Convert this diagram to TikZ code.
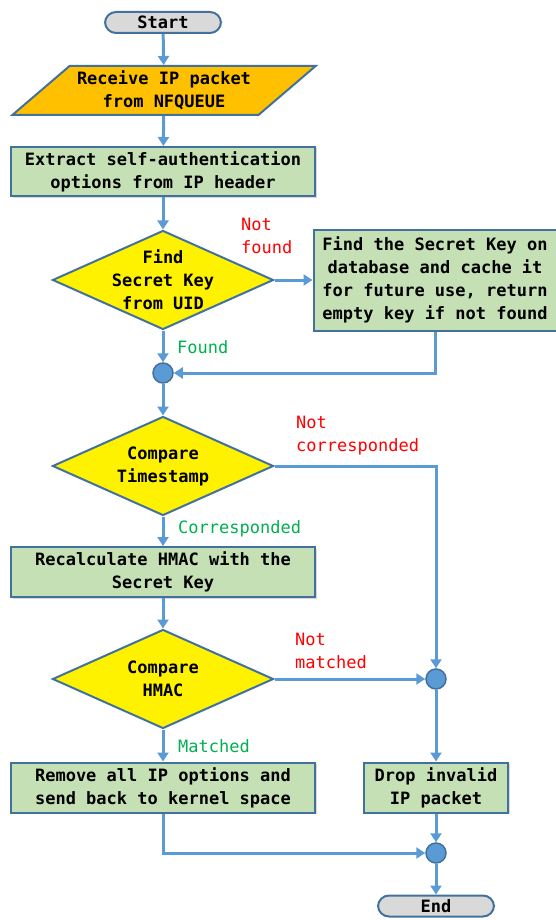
\documentclass[tikz,border=0pt]{standalone}
\usepackage{fontspec}
\setmainfont{DejaVu Sans Mono}
\usetikzlibrary{arrows.meta,shapes.geometric,shadows}

\definecolor{flowline}{HTML}{5B9BD5}
\definecolor{flowedge}{HTML}{41719C}
\definecolor{boxgreen}{HTML}{C5E0B4}
\definecolor{recvorange}{HTML}{FFC000}
\definecolor{yesgreen}{HTML}{00B050}
\definecolor{termgrey}{HTML}{D9D9D9}

\tikzset{
	base/.style={draw=flowedge, line width=2pt, align=center, inner sep=0pt,
		font=\fontsize{17}{23}\selectfont\bfseries},
	terminal/.style={base, rectangle, rounded corners=11pt, fill=termgrey,
		minimum width=116pt, minimum height=21pt},
	inputbox/.style={base, trapezium, trapezium left angle=36.6,
		trapezium right angle=143.4, trapezium stretches=true, fill=recvorange,
		minimum width=304pt, minimum height=49pt},
	process/.style={base, rectangle, fill=boxgreen,
		drop shadow={opacity=0.3, shadow xshift=1.5pt, shadow yshift=-1.5pt}},
	decision/.style={base, diamond, fill=yellow, minimum width=221pt,
		minimum height=99pt},
	junction/.style={circle, draw=flowedge, line width=1.5pt, fill=flowline,
		minimum size=20pt, inner sep=0pt},
	flow/.style={draw=flowline, line width=3pt,
		-{Triangle[width=11pt,length=9pt]}},
	nolabel/.style={text=red, align=left, anchor=west, inner sep=0pt,
		font=\fontsize{17}{23}\selectfont},
	yeslabel/.style={nolabel, text=yesgreen}
}

\begin{document}
\begin{tikzpicture}[x=1pt, y=-1pt]
		%%%%% START %%%%%
		\useasboundingbox (0, 0) rectangle (556, 920);
		
		\node[terminal] (start) at (163, 22.5) {Start};
		\node[inputbox] (recv) at (164, 90.5) {Receive IP packet\\from NFQUEUE};
		\node[process, minimum width=304pt, minimum height=49pt] (extract) at (163, 171.5)
			{Extract self-authentication\\options from IP header};
		
		\node[decision, label={[base, draw=none, fill=none]center:Find\\Secret Key\\from UID}] (find) at (163, 280) {};
		\node[process, minimum width=243pt, minimum height=101pt] (lookup) at (435, 280)
			{Find the Secret Key on\\database and cache it\\for future use, return\\empty key if not found};
		\node[junction] (j1) at (163, 373) {};
		
		\node[decision, label={[base, draw=none, fill=none]center:Compare\\Timestamp}] (ts) at (163, 466) {};
		\node[process, minimum width=304pt, minimum height=50pt] (calc) at (163, 572)
			{Recalculate HMAC with the\\Secret Key};
		\node[decision, label={[base, draw=none, fill=none]center:Compare\\HMAC}] (cmp) at (163, 679) {};
		\node[junction] (j2) at (436, 679) {};
		
		\node[process, minimum width=304pt, minimum height=50pt] (remove) at (163, 787.5)
			{Remove all IP options and\\send back to kernel space};
		\node[process, minimum width=144pt, minimum height=50pt] (drop) at (436, 787.5)
			{Drop invalid\\IP packet};
		\node[junction] (j3) at (436, 853) {};
		\node[terminal] (end) at (436, 906) {End};
		
		% branch labels
		\node[nolabel] (lnotfound) at (241, 235.5) {Not\\found};
		\node[yeslabel] (lfound) at (177, 347) {Found};
		\node[nolabel] (lnotcorr) at (296, 436) {Not\\corresponded};
		\node[yeslabel] (lcorr) at (178, 529) {Corresponded};
		\node[nolabel] (lnotmatch) at (295, 651) {Not\\matched};
		\node[yeslabel] (lmatch) at (178, 746) {Matched};
		
		% connectors
		\draw[flow] (start) -- (recv);
		\draw[flow] (recv) -- (extract);
		\draw[flow] (extract) -- (find);
		\draw[flow] (find.east) -- (lookup.west);
		\draw[flow] (find.south) -- (j1);
		\draw[flow] (lookup.south) |- (j1);
		\draw[flow] (j1) -- (ts);
		\draw[flow] (ts.east) -| (j2);
		\draw[flow] (ts.south) -- (calc);
		\draw[flow] (calc) -- (cmp);
		\draw[flow] (cmp.east) -- (j2);
		\draw[flow] (cmp.south) -- (remove);
		\draw[flow] (j2) -- (drop);
		\draw[flow] (drop) -- (j3);
		\draw[flow] (remove.south) |- (j3);
		\draw[flow] (j3) -- (end);
		
		%%%%% END %%%%%
\end{tikzpicture}
\end{document}
